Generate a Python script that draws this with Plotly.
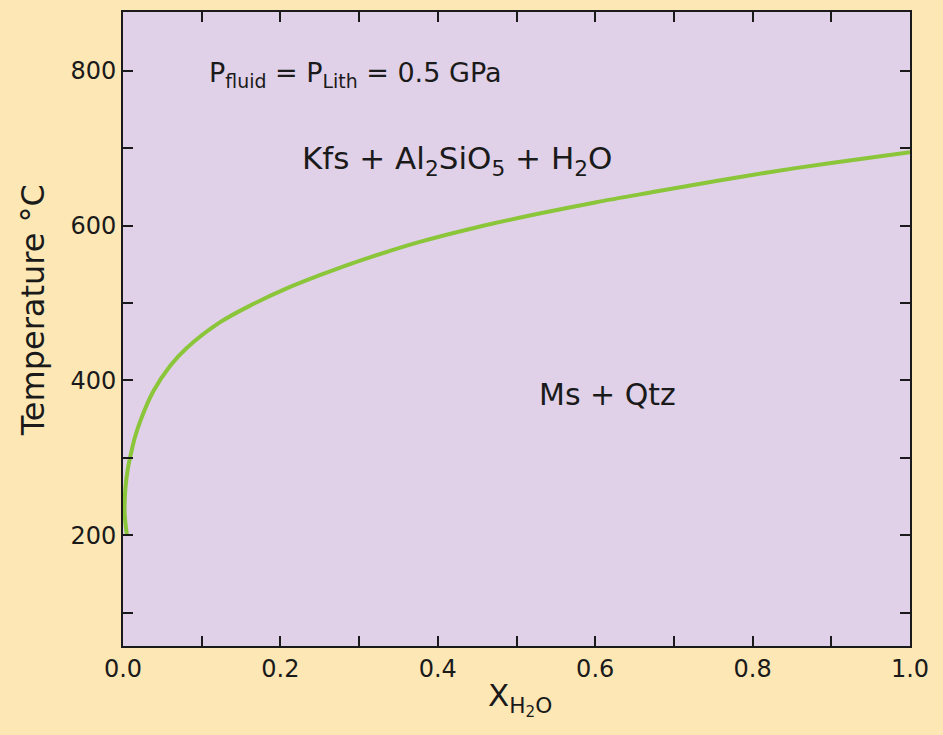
import plotly.graph_objects as go

# Phase boundary Ms + Qtz = Kfs + Al2SiO5 + H2O at 0.5 GPa
x_h2o = [0.005, 0.002, 0.003, 0.006, 0.010, 0.015, 0.0225, 0.0385, 0.060, 0.081,
         0.123, 0.166, 0.208, 0.250, 0.293, 0.335, 0.377, 0.45, 0.526, 0.60,
         0.677, 0.75, 0.827, 0.90, 1.0]
temp_c = [200, 230, 260, 285, 305, 326, 349, 386, 419, 442,
          475, 499, 519, 536, 552, 566, 579, 598, 615, 630,
          644, 657, 670, 681, 695]

x_tickvals = [0.0, 0.2, 0.4, 0.6, 0.8, 1.0]
x_ticktext = ["0.0", "0.2", "0.4", "0.6", "0.8", "1.0"]
y_tickvals = [200, 400, 600, 800]
y_ticktext = ["200", "400", "600", "800"]

FONT = "DejaVu Sans, Liberation Sans, Arial, sans-serif"
INK = "#1a1a1a"
PAPER = "#FDE7B5"
PLOT = "#E0D1E8"
GREEN = "#8AC53A"

fig = go.Figure()
fig.add_trace(go.Scatter(
    x=x_h2o, y=temp_c, mode="lines",
    line=dict(color=GREEN, width=4, shape="spline", smoothing=1.0),
    showlegend=False, hoverinfo="skip",
))

axis_common = dict(
    showgrid=False, zeroline=False,
    showline=True, linecolor=INK, linewidth=2, mirror="ticks",
    ticks="inside", ticklen=10, tickwidth=2, tickcolor=INK,
    tickfont=dict(family=FONT, size=24, color=INK),
)

fig.update_layout(
    width=943, height=735,
    paper_bgcolor=PAPER, plot_bgcolor=PLOT,
    margin=dict(l=123, r=33, t=10, b=89),
    xaxis=dict(range=[0, 1], tickmode="array", tickvals=x_tickvals,
               ticktext=x_ticktext,
               minor=dict(dtick=0.1, ticks="inside", ticklen=10, tickwidth=2,
                          tickcolor=INK, showgrid=False),
               **axis_common),
    yaxis=dict(range=[57, 876], tickmode="array", tickvals=y_tickvals,
               ticktext=y_ticktext,
               minor=dict(dtick=100, tick0=0, ticks="inside", ticklen=10, tickwidth=2,
                          tickcolor=INK, showgrid=False),
               **axis_common),
)

annotations = [
    dict(text="P<sub>fluid</sub> = P<sub>Lith</sub> = 0.5 GPa", x=0.107, y=795,
         xref="x", yref="y", xanchor="left", yanchor="middle", showarrow=False,
         font=dict(family=FONT, size=27, color=INK)),
    dict(text="Kfs + Al<sub>2</sub>SiO<sub>5</sub> + H<sub>2</sub>O", x=0.225, y=684,
         xref="x", yref="y", xanchor="left", yanchor="middle", showarrow=False,
         font=dict(family=FONT, size=31, color=INK)),
    dict(text="Ms + Qtz", x=0.615, y=382, xref="x", yref="y",
         xanchor="center", yanchor="middle", showarrow=False,
         font=dict(family=FONT, size=30, color=INK)),
    dict(text="Temperature °C", x=-0.114, y=0.53, xref="paper", yref="paper",
         xanchor="center", yanchor="middle", textangle=-90, showarrow=False,
         font=dict(family=FONT, size=32, color=INK)),
    dict(text="X<sub>H<sub>2</sub>O</sub>", x=0.504, y=-0.045, xref="paper", yref="paper",
         xanchor="center", yanchor="top", showarrow=False,
         font=dict(family=FONT, size=31, color=INK)),
]
fig.update_layout(annotations=annotations)

fig.write_html(
    "out.html",
    config={"displayModeBar": False},
    post_script="document.body.style.margin='0';document.body.style.background='" + PAPER + "';",
)
